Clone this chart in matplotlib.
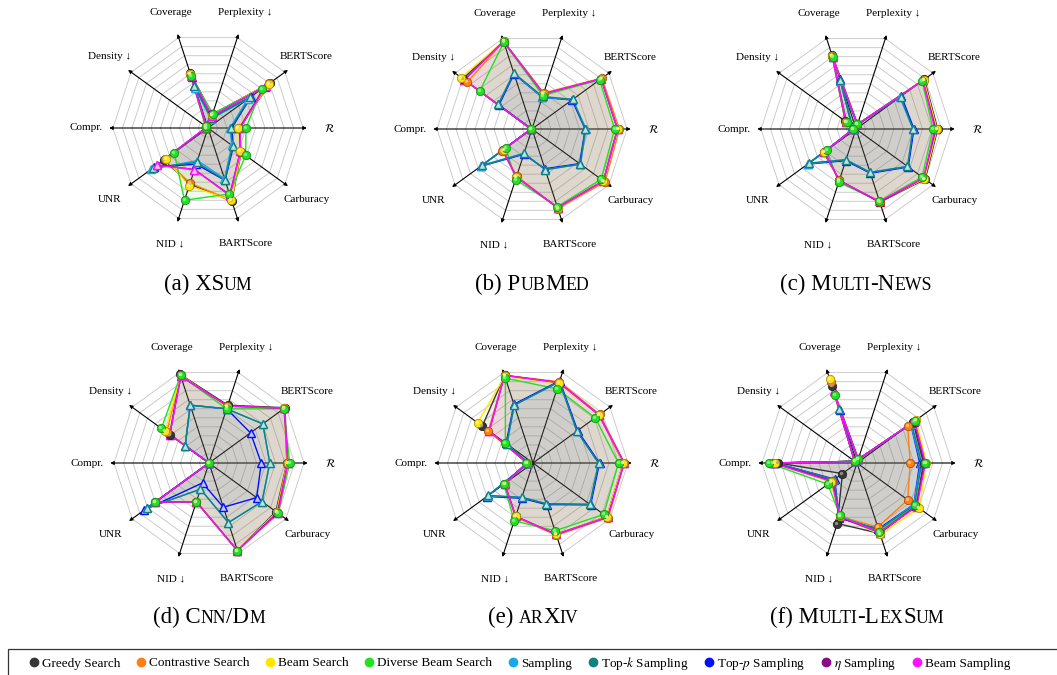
import matplotlib.pyplot as plt
import numpy as np
from matplotlib.lines import Line2D
from matplotlib.patches import Rectangle
from matplotlib.colors import to_rgb
from matplotlib.offsetbox import TextArea, HPacker, AnnotationBbox
import matplotlib.transforms as mtransforms

plt.rcParams['font.family'] = ['Liberation Serif', 'DejaVu Serif']
plt.rcParams['mathtext.fontset'] = 'stix'

# axes, clockwise from Coverage
metrics = ['Coverage', 'Perplexity ↓', 'BERTScore', r'$\mathcal{R}$', 'Carburacy',
           'BARTScore', 'NID ↓', 'UNR', 'Compr.', 'Density ↓']
methods = ['Greedy Search', 'Contrastive Search', 'Beam Search', 'Diverse Beam Search',
           'Sampling', 'Top-$k$ Sampling', 'Top-$p$ Sampling', r'$\eta$ Sampling', 'Beam Sampling']
colors = ['#363636', '#ff8010', '#ffe600', '#22e022', '#1aa6ea',
          '#0e8282', '#0010ff', '#8a0a8a', '#ff10ff']
labels = ['(a)', '(b)', '(c)', '(d)', '(e)', '(f)']
datasets = ['XSum', 'PubMed', 'Multi-News', 'Cnn/Dm', 'arXiv', 'Multi-LexSum']

# values per method: Cov, Perp, BERT, R, Carb, BART, NID, UNR, Compr, Dens
xsum = [
    [0.61, 0.15, 0.81, 0.33, 0.43, 0.81, 0.62, 0.57, 0.02, 0.03],
    [0.60, 0.14, 0.80, 0.33, 0.43, 0.80, 0.61, 0.56, 0.02, 0.03],
    [0.60, 0.14, 0.79, 0.32, 0.42, 0.80, 0.64, 0.55, 0.02, 0.03],
    [0.58, 0.16, 0.70, 0.40, 0.49, 0.73, 0.80, 0.44, 0.02, 0.03],
    [0.44, 0.10, 0.52, 0.23, 0.31, 0.56, 0.36, 0.74, 0.02, 0.02],
    [0.46, 0.11, 0.55, 0.24, 0.32, 0.58, 0.38, 0.71, 0.02, 0.02],
    [0.47, 0.11, 0.56, 0.25, 0.33, 0.58, 0.40, 0.70, 0.02, 0.02],
    [0.56, 0.13, 0.74, 0.33, 0.42, 0.74, 0.46, 0.66, 0.02, 0.02],
    [0.58, 0.13, 0.75, 0.34, 0.42, 0.75, 0.46, 0.67, 0.03, 0.02],
]
pubmed = [
    [0.97, 0.39, 0.90, 0.90, 0.93, 0.87, 0.53, 0.38, 0.01, 0.90],
    [0.97, 0.40, 0.91, 0.92, 0.95, 0.88, 0.52, 0.39, 0.01, 0.84],
    [0.97, 0.39, 0.90, 0.90, 0.93, 0.87, 0.53, 0.37, 0.01, 0.92],
    [0.96, 0.37, 0.88, 0.87, 0.90, 0.86, 0.56, 0.34, 0.01, 0.68],
    [0.62, 0.35, 0.53, 0.57, 0.63, 0.45, 0.27, 0.66, 0.01, 0.44],
    [0.62, 0.36, 0.53, 0.56, 0.63, 0.45, 0.27, 0.65, 0.01, 0.44],
    [0.61, 0.35, 0.52, 0.56, 0.62, 0.44, 0.28, 0.67, 0.01, 0.43],
    [0.97, 0.39, 0.90, 0.90, 0.93, 0.87, 0.53, 0.38, 0.01, 0.88],
    [0.97, 0.39, 0.90, 0.90, 0.93, 0.87, 0.53, 0.38, 0.01, 0.88],
]
multinews = [
    [0.82, 0.05, 0.89, 0.86, 0.90, 0.81, 0.57, 0.42, 0.03, 0.14],
    [0.81, 0.05, 0.88, 0.85, 0.89, 0.81, 0.57, 0.41, 0.03, 0.13],
    [0.81, 0.05, 0.88, 0.85, 0.89, 0.80, 0.58, 0.41, 0.03, 0.13],
    [0.80, 0.05, 0.86, 0.81, 0.86, 0.80, 0.59, 0.38, 0.03, 0.12],
    [0.53, 0.05, 0.57, 0.60, 0.67, 0.48, 0.34, 0.62, 0.02, 0.05],
    [0.54, 0.05, 0.58, 0.60, 0.67, 0.48, 0.34, 0.61, 0.02, 0.05],
    [0.55, 0.05, 0.59, 0.61, 0.68, 0.49, 0.35, 0.63, 0.02, 0.05],
    [0.80, 0.05, 0.87, 0.84, 0.88, 0.81, 0.57, 0.41, 0.03, 0.13],
    [0.80, 0.05, 0.87, 0.83, 0.88, 0.80, 0.57, 0.41, 0.03, 0.13],
]
cnndm = [
    [0.98, 0.64, 0.99, 0.82, 0.87, 0.97, 0.43, 0.70, 0.00, 0.51],
    [0.97, 0.63, 0.98, 0.82, 0.88, 0.97, 0.43, 0.70, 0.00, 0.55],
    [0.97, 0.62, 0.98, 0.83, 0.88, 0.97, 0.43, 0.70, 0.00, 0.57],
    [0.97, 0.60, 0.97, 0.85, 0.90, 0.97, 0.43, 0.70, 0.00, 0.62],
    [0.64, 0.60, 0.70, 0.64, 0.69, 0.66, 0.29, 0.81, 0.00, 0.31],
    [0.64, 0.60, 0.70, 0.64, 0.69, 0.66, 0.29, 0.81, 0.00, 0.31],
    [0.64, 0.60, 0.54, 0.55, 0.62, 0.49, 0.22, 0.84, 0.00, 0.31],
    [0.96, 0.63, 0.98, 0.83, 0.89, 0.97, 0.43, 0.70, 0.00, 0.51],
    [0.96, 0.63, 0.98, 0.83, 0.90, 0.97, 0.43, 0.70, 0.00, 0.51],
]
arxiv = [
    [0.97, 0.89, 0.86, 0.95, 0.96, 0.79, 0.59, 0.37, 0.06, 0.66],
    [0.97, 0.90, 0.87, 0.96, 0.98, 0.80, 0.60, 0.37, 0.06, 0.58],
    [0.96, 0.88, 0.86, 0.95, 0.96, 0.79, 0.59, 0.37, 0.06, 0.72],
    [0.94, 0.82, 0.81, 0.90, 0.92, 0.75, 0.64, 0.38, 0.07, 0.36],
    [0.64, 0.90, 0.57, 0.69, 0.74, 0.45, 0.38, 0.59, 0.05, 0.34],
    [0.64, 0.90, 0.57, 0.69, 0.74, 0.45, 0.38, 0.58, 0.05, 0.34],
    [0.65, 0.91, 0.58, 0.70, 0.75, 0.46, 0.39, 0.60, 0.05, 0.35],
    [0.97, 0.89, 0.86, 0.96, 0.97, 0.79, 0.59, 0.37, 0.06, 0.57],
    [0.97, 0.89, 0.86, 0.96, 0.97, 0.79, 0.59, 0.37, 0.06, 0.57],
]
lexsum = [
    [0.85, 0.04, 0.73, 0.70, 0.77, 0.78, 0.67, 0.19, 0.83, 0.03],
    [0.90, 0.04, 0.66, 0.56, 0.66, 0.71, 0.59, 0.33, 0.88, 0.03],
    [0.93, 0.04, 0.77, 0.73, 0.81, 0.79, 0.59, 0.34, 0.86, 0.03],
    [0.75, 0.04, 0.75, 0.72, 0.76, 0.76, 0.58, 0.38, 0.93, 0.03],
    [0.60, 0.04, 0.70, 0.67, 0.74, 0.74, 0.60, 0.30, 0.86, 0.03],
    [0.60, 0.04, 0.71, 0.68, 0.75, 0.74, 0.60, 0.30, 0.87, 0.03],
    [0.59, 0.04, 0.70, 0.66, 0.74, 0.73, 0.61, 0.29, 0.86, 0.03],
    [0.80, 0.04, 0.74, 0.71, 0.77, 0.77, 0.60, 0.32, 0.88, 0.03],
    [0.80, 0.04, 0.75, 0.72, 0.78, 0.77, 0.59, 0.33, 0.89, 0.03],
]
panels = [xsum, pubmed, multinews, cnndm, arxiv, lexsum]

W, H = 1057, 675
fig = plt.figure(figsize=(W / 100, H / 100), dpi=100)

centers = [(208, 128), (532, 129), (856, 129), (209, 463), (533, 463), (857, 463)]
title_y = [284, 284, 284, 617, 617, 617]
unit = 95.0   # pixels for value 1.0
hs = 140      # half size of each axes in pixels
angles = np.deg2rad(108 - 36 * np.arange(len(metrics)))
fill_alpha = [0.08, 0.04, 0.04, 0.08, 0.025, 0.02, 0.02, 0.025, 0.05]
draw_order = [0, 1, 2, 3, 6, 4, 5, 7, 8]


def lighten(c, t):
    return tuple(np.array(to_rgb(c)) * (1 - t) + t)


def darken(c, t):
    return tuple(np.array(to_rgb(c)) * (1 - t))


def smallcaps(prefix, text, big=16.5, small=12.8):
    parts = [[prefix + ' ', big]]
    for ch in text:
        lower = ch.isalpha() and ch.islower()
        size = small if lower else big
        s = ch.upper() if lower else ch
        if parts[-1][1] == size:
            parts[-1][0] += s
        else:
            parts.append([s, size])
    boxes = [TextArea(s, textprops=dict(fontsize=sz, family=['Liberation Serif', 'DejaVu Serif']))
             for s, sz in parts]
    return HPacker(children=boxes, align='baseline', pad=0, sep=0)


for p, data in enumerate(panels):
    cx, cy = centers[p]
    ax = fig.add_axes([(cx - hs) / W, (H - cy - hs) / H, 2 * hs / W, 2 * hs / H])
    lim = hs / unit
    ax.set_xlim(-lim, lim)
    ax.set_ylim(-lim, lim)
    ax.axis('off')

    cs, sn = np.cos(angles), np.sin(angles)
    for k in range(1, 11):
        r = k / 10
        ax.plot(np.append(r * cs, r * cs[0]), np.append(r * sn, r * sn[0]),
                color='#c4c4c4', lw=0.6, zorder=1)
    for a in angles:
        ax.annotate('', xy=(1.04 * np.cos(a), 1.04 * np.sin(a)), xytext=(0, 0),
                    arrowprops=dict(arrowstyle='-|>', lw=0.8, color='black',
                                    mutation_scale=5, shrinkA=0, shrinkB=0), zorder=2)
    for a, name in zip(angles, metrics):
        ax.text(1.28 * np.cos(a), 1.28 * np.sin(a), name, ha='center', va='center', fontsize=8)

    hl = mtransforms.offset_copy(ax.transData, fig=fig, x=-1.0, y=1.0, units='dots')
    for m in draw_order:
        v = np.array(data[m])
        xs = np.append(v * cs, v[0] * cs[0])
        ys = np.append(v * sn, v[0] * sn[0])
        col = colors[m]
        ax.fill(xs, ys, color=col, alpha=fill_alpha[m], lw=0, zorder=3)
        ax.plot(xs, ys, color=col, lw=1.0, zorder=4)
        if m >= 4:
            ax.plot(xs[:-1], ys[:-1], ls='', marker='^', ms=5.5, mfc=lighten(col, 0.75),
                    mec=col, mew=1.0, zorder=5)
        else:
            ax.plot(xs[:-1], ys[:-1], ls='', marker='o', ms=6, mfc=col,
                    mec=darken(col, 0.35), mew=0.6, zorder=6)
            ax.plot(xs[:-1], ys[:-1], ls='', marker='o', ms=2.4, mfc=lighten(col, 0.55),
                    mec='none', alpha=0.8, transform=hl, zorder=7)

    ab = AnnotationBbox(smallcaps(labels[p], datasets[p]), (cx / W, 1 - title_y[p] / H),
                        xycoords='figure fraction', frameon=False,
                        box_alignment=(0.5, 0.5), pad=0)
    fig.add_artist(ab)

handles = [Line2D([], [], ls='', marker='o', ms=6, color=c) for c in colors]
fig.legend(handles, methods, loc='center', ncol=9, mode='expand', frameon=False,
           bbox_to_anchor=(28 / W, 1 - 675 / H, (1010 - 28) / W, 2 * (675 - 663) / H),
           fontsize=9.5, handlelength=0.9, handletextpad=0.15, borderpad=0,
           borderaxespad=0, columnspacing=1.0)
fig.add_artist(Rectangle((8 / W, -0.1), 1.2, 0.1 + (675 - 649) / H, transform=fig.transFigure,
                         fill=False, ec='#333333', lw=0.9))

fig.savefig('out.png', dpi=100)
